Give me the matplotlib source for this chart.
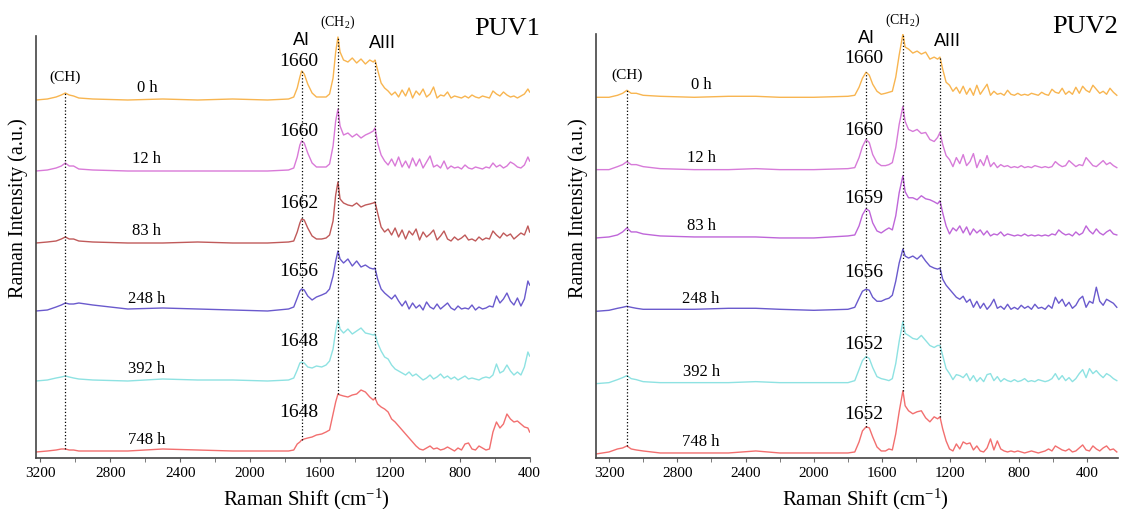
import numpy as np
import matplotlib
matplotlib.use("Agg")
import matplotlib.pyplot as plt

plt.rcParams['font.family'] = ['Liberation Serif', 'DejaVu Serif']
plt.rcParams['mathtext.fontset'] = 'custom'
plt.rcParams['mathtext.rm'] = 'Liberation Serif'
plt.rcParams['mathtext.it'] = 'Liberation Serif:italic'

times = ['0 h', '12 h', '83 h', '248 h', '392 h', '748 h']

# ---------------- PUV1 ----------------
x_puv1 = [3225, 3160, 3110, 3080, 3057, 3035, 3010, 2980, 2900, 2700,
          2500, 2300, 2100, 1900, 1780, 1750, 1730, 1715, 1705, 1690,
          1670, 1645, 1620, 1590, 1565, 1545, 1525, 1510, 1497, 1485,
          1465, 1440, 1415, 1390, 1365, 1340, 1315, 1295, 1285, 1270,
          1250, 1230, 1210, 1190, 1170, 1150, 1130, 1110, 1090, 1070,
          1050, 1030, 1010, 990, 970, 950, 930, 910, 890, 870,
          850, 830, 810, 790, 770, 750, 730, 710, 690, 670,
          650, 630, 610, 590, 570, 550, 530, 510, 490, 470,
          450, 430, 410, 400]

puv1_0h = [0, 1, 3, 5, 7, 5, 4, 2, 1, 0,
           1, 0, 1, 0, 1, 3, 12, 23, 29, 26,
           16, 7, 3, 3, 3, 6, 22, 48, 63, 48,
           40, 38, 42, 37, 41, 36, 40, 38, 40, 30,
           17, 12, 9, 5, 8, 3, 10, 4, 12, 2,
           9, 5, 11, 3, 6, 13, 2, 5, 4, 8,
           2, 4, 3, 2, 4, 2, 5, 3, 2, 4,
           3, 2, 9, 6, 4, 8, 5, 3, 4, 2,
           4, 6, 11, 8]
puv1_12h = [0, 1, 3, 5, 8, 5, 5, 2, 1, 0,
            0, 0, 0, 0, 1, 3, 14, 26, 30, 28,
            18, 8, 4, 4, 4, 7, 25, 50, 62, 45,
            36, 38, 34, 37, 33, 36, 38, 40, 43, 28,
            16, 10, 6, 12, 5, 14, 4, 10, 3, 13,
            5, 12, 3, 9, 15, 4, 6, 3, 10, 2,
            5, 3, 4, 2, 6, 3, 2, 4, 3, 2,
            4, 3, 8, 4, 6, 3, 5, 9, 7, 4,
            3, 6, 14, 10]
puv1_83h = [0, 1, 2, 4, 6, 4, 4, 2, 1, 0,
            0, 1, 0, 0, 1, 2, 11, 20, 24, 23,
            15, 7, 4, 4, 5, 8, 22, 48, 61, 44,
            40, 38, 37, 40, 36, 38, 39, 40, 41, 30,
            16, 11, 14, 8, 15, 6, 13, 4, 12, 8,
            14, 3, 11, 6, 9, 13, 3, 7, 12, 4,
            2, 6, 3, 5, 8, 3, 4, 2, 6, 3,
            5, 4, 12, 8, 5, 10, 7, 9, 4, 7,
            10, 8, 17, 11]
puv1_248h = [0, 1, 4, 6, 8, 7, 7, 8, 6, 2,
             3, 2, 1, 0, 2, 4, 13, 20, 22, 21,
             15, 11, 14, 16, 18, 22, 35, 50, 60, 52,
             48, 52, 45, 50, 44, 46, 43, 42, 43, 32,
             22, 18, 15, 12, 16, 10, 5, 10, 2, 8,
             3, 6, 1, 9, 4, 2, 7, 2, 5, 8,
             3, 1, 5, 2, 3, 2, 6, 1, 4, 2,
             3, 5, 4, 15, 8, 12, 18, 10, 6, 13,
             5, 12, 30, 26]
puv1_392h = [0, 1, 3, 4, 5, 4, 3, 2, 1, 0,
             2, 1, 1, 0, 1, 3, 11, 18, 19, 18,
             14, 13, 15, 14, 16, 20, 32, 50, 61, 52,
             48, 52, 47, 50, 53, 48, 47, 46, 47, 38,
             30, 24, 22, 16, 12, 10, 8, 6, 9, 5,
             7, 4, 1, 3, 6, 2, 4, 7, 3, 5,
             2, 4, 1, 3, 5, 2, 3, 2, 1, 3,
             4, 3, 6, 17, 8, 10, 16, 10, 6, 9,
             6, 14, 29, 25]
puv1_748h = [0, 1, 2, 3, 3, 2, 2, 1, 1, 1,
             3, 2, 1, 1, 1, 2, 8, 10, 12, 13,
             14, 15, 17, 18, 20, 22, 38, 50, 58, 57,
             56, 55, 57, 58, 62, 60, 55, 52, 54, 48,
             45, 43, 40, 33, 30, 26, 22, 18, 14, 10,
             6, 3, 2, 4, 6, 3, 4, 2, 3, 5,
             3, 1, 4, 2, 8, 9, 3, 2, 6, 4,
             2, 3, 20, 30, 24, 28, 38, 33, 30, 31,
             28, 25, 24, 20]

offsets_puv1 = [358, 287, 215, 147, 77, 6]
colors_puv1 = ['#F8B550', '#D97AD8', '#C05A5A', '#6A5ACD', '#8EE2E2', '#F26F6F']
peaks_puv1 = [3057, 1705, 1497, 1285]
ai_puv1 = ['1660', '1660', '1662', '1656', '1648', '1648']

# ---------------- PUV2 ----------------
x_puv2 = [3276, 3200, 3150, 3120, 3095, 3070, 3040, 3000, 2900, 2700,
          2500, 2340, 2200, 2000, 1800, 1760, 1735, 1715, 1694, 1675,
          1655, 1630, 1605, 1580, 1560, 1540, 1520, 1500, 1478, 1465,
          1445, 1420, 1395, 1370, 1345, 1320, 1295, 1275, 1261, 1245,
          1225, 1205, 1185, 1165, 1145, 1125, 1105, 1085, 1065, 1045,
          1025, 1005, 985, 965, 945, 925, 905, 885, 865, 845,
          825, 805, 785, 765, 745, 725, 705, 685, 665, 645,
          625, 605, 585, 565, 545, 525, 505, 485, 465, 445,
          425, 405, 385, 365, 345, 325, 305, 285, 265, 245, 225]

puv2_0h = [0, 0, 2, 4, 7, 4, 4, 2, 1, 0,
           1, 1, 0, 0, 1, 2, 10, 19, 25, 22,
           13, 6, 3, 4, 5, 6, 20, 42, 63, 50,
           48, 44, 46, 43, 45, 38, 40, 38, 40, 28,
           15, 12, 6, 10, 4, 11, 3, 9, 2, 12,
           3, 8, 13, 2, 6, 3, 4, 2, 7, 3,
           2, 4, 2, 3, 2, 4, 3, 2, 5, 3,
           2, 8, 5, 4, 9, 3, 6, 3, 10, 4,
           11, 7, 5, 12, 8, 4, 6, 3, 9, 5, 2]
puv2_12h = [0, 0, 3, 5, 8, 5, 5, 3, 1, 0,
            0, 1, 0, 0, 1, 2, 12, 23, 30, 27,
            15, 7, 4, 4, 5, 7, 22, 45, 63, 48,
            40, 38, 40, 36, 37, 30, 28, 32, 37, 25,
            14, 10, 3, 12, 6, 15, 4, 8, 16, 2,
            10, 4, 14, 3, 7, 2, 5, 3, 4, 2,
            3, 2, 4, 2, 3, 2, 4, 3, 2, 3,
            2, 3, 8, 5, 3, 4, 9, 6, 3, 5,
            4, 12, 8, 4, 3, 6, 9, 5, 7, 4, 2]
puv2_83h = [0, 1, 3, 6, 10, 6, 6, 4, 2, 1,
            1, 1, 0, 0, 2, 3, 12, 23, 29, 27,
            15, 7, 5, 8, 10, 8, 22, 45, 62, 46,
            40, 40, 38, 42, 39, 38, 36, 34, 37, 25,
            12, 4, 10, 7, 12, 5, 11, 3, 9, 5,
            8, 3, 7, 2, 4, 3, 6, 2, 4, 3,
            2, 3, 2, 4, 2, 3, 2, 3, 2, 3,
            2, 4, 3, 8, 5, 3, 4, 2, 6, 3,
            5, 12, 7, 4, 9, 5, 3, 6, 8, 4, 3]
puv2_248h = [0, 1, 3, 4, 5, 4, 3, 2, 2, 2,
             3, 3, 2, 1, 2, 4, 13, 20, 22, 21,
             14, 10, 10, 12, 13, 16, 30, 48, 62, 55,
             53, 55, 52, 56, 50, 45, 43, 42, 43, 32,
             26, 22, 18, 14, 12, 15, 9, 12, 4, 10,
             3, 8, 2, 6, 12, 3, 5, 2, 7, 2,
             4, 2, 6, 3, 5, 2, 7, 3, 4, 2,
             6, 3, 14, 8, 12, 5, 9, 3, 6, 12,
             15, 4, 10, 8, 24, 10, 6, 12, 10, 8, 4]
puv2_392h = [0, 1, 4, 6, 8, 5, 4, 2, 1, 1,
             1, 2, 1, 1, 1, 3, 14, 23, 27, 25,
             16, 7, 5, 4, 3, 5, 20, 42, 62, 50,
             48, 45, 44, 48, 43, 38, 36, 38, 38, 28,
             15, 10, 4, 9, 8, 6, 10, 3, 8, 2,
             6, 2, 9, 10, 3, 7, 2, 5, 3, 2,
             4, 2, 3, 5, 2, 3, 2, 4, 3, 2,
             3, 5, 10, 4, 8, 3, 6, 2, 5, 10,
             14, 6, 15, 10, 13, 9, 6, 10, 8, 5, 3]
puv2_748h = [0, 2, 5, 6, 8, 5, 4, 3, 1, 1,
             1, 3, 1, 1, 1, 2, 12, 23, 27, 26,
             17, 7, 3, 3, 5, 4, 20, 42, 63, 48,
             43, 40, 42, 43, 36, 32, 37, 35, 37, 25,
             13, 5, 3, 10, 5, 12, 10, 11, 4, 8,
             3, 2, 6, 15, 4, 13, 5, 3, 2, 3,
             2, 3, 2, 1, 2, 3, 2, 1, 2, 3,
             5, 3, 8, 6, 4, 3, 5, 2, 3, 6,
             9, 4, 3, 8, 5, 3, 6, 8, 4, 5, 2]

offsets_puv2 = [359, 287, 219, 146, 74, 4]
colors_puv2 = ['#F8B550', '#D77BD9', '#BF66D9', '#6A5ACD', '#8EE2E2', '#F26F6F']
peaks_puv2 = [3095, 1694, 1478, 1261]
ai_puv2 = ['1660', '1660', '1659', '1656', '1652', '1652']


def draw_panel(ax, xs, series, offsets, colors, peaks, ai_labels, title,
               xlim, time_x, title_x, xlab_pos, ylab_pos):
    for ys, off, c in zip(series, offsets, colors):
        ax.plot(xs, np.array(ys) + off, color=c, lw=1.0)
    # dotted guide lines between first and last trace
    for p in peaks:
        top = offsets[0] + np.interp(p, xs[::-1], series[0][::-1])
        bot = offsets[-1] + np.interp(p, xs[::-1], series[-1][::-1])
        ax.plot([p, p], [bot, top], color='black', ls=':', lw=0.9)
    for t, off, lab in zip(times, offsets, ai_labels):
        ax.text(time_x, off + 13, t, ha='center', va='center', fontsize=12)
        ax.text(peaks[1] + 15, off + 40, lab, ha='center', va='center',
                fontsize=14)
    ax.text(peaks[0], 382, '(CH)', ha='center', va='center', fontsize=11)
    ax.text(peaks[1], 419, 'AI', ha='center', va='center', fontsize=13,
            family='Liberation Sans')
    ax.text(peaks[2], 437, r'(CH$_{\mathregular{2}}$)', ha='center',
            va='center', fontsize=10)
    ax.text(peaks[3] - 45, 416, 'AIII', ha='center', va='center',
            fontsize=13, family='Liberation Sans')
    ax.text(title_x, 1.02, title, transform=ax.transAxes, ha='right',
            va='center', fontsize=19)

    ax.set_xlim(*xlim)
    ax.set_ylim(0, 422)
    ax.set_xticks([3200, 2800, 2400, 2000, 1600, 1200, 800, 400])
    ax.set_xticks(np.arange(400, 3201, 200), minor=True)
    ax.set_yticks([])
    ax.tick_params(axis='x', which='both', direction='out', length=3,
                   labelsize=11, pad=3, color='#666666')
    for s in ['top', 'right']:
        ax.spines[s].set_visible(False)
    for s in ['left', 'bottom']:
        ax.spines[s].set_color('#444444')
        ax.spines[s].set_linewidth(1.2)
    ax.set_xlabel(r'Raman Shift (cm$^{\mathregular{-1}}$)', fontsize=15)
    ax.set_ylabel('Raman Intensity (a.u.)', fontsize=14.5)
    ax.xaxis.set_label_coords(*xlab_pos)
    ax.yaxis.set_label_coords(*ylab_pos)
    ax.xaxis.label.set_va('center')
    ax.yaxis.label.set_va('center')


fig = plt.figure(figsize=(11.26, 5.10), dpi=100)
ax1 = fig.add_axes([36 / 1126, 51 / 510, 494 / 1126, 422 / 510])
ax2 = fig.add_axes([596 / 1126, 51 / 510, 522 / 1126, 424 / 510])

draw_panel(ax1, x_puv1,
           [puv1_0h, puv1_12h, puv1_83h, puv1_248h, puv1_392h, puv1_748h],
           offsets_puv1, colors_puv1, peaks_puv1, ai_puv1, 'PUV1',
           (3225, 398), 2590, 1.02, (0.547, -0.095), (-0.036, 0.595))
draw_panel(ax2, x_puv2,
           [puv2_0h, puv2_12h, puv2_83h, puv2_248h, puv2_392h, puv2_748h],
           offsets_puv2, colors_puv2, peaks_puv2, ai_puv2, 'PUV2',
           (3276, 218), 2660, 1.0, (0.517, -0.095), (-0.034, 0.592))

fig.savefig('out.png', dpi=100)
